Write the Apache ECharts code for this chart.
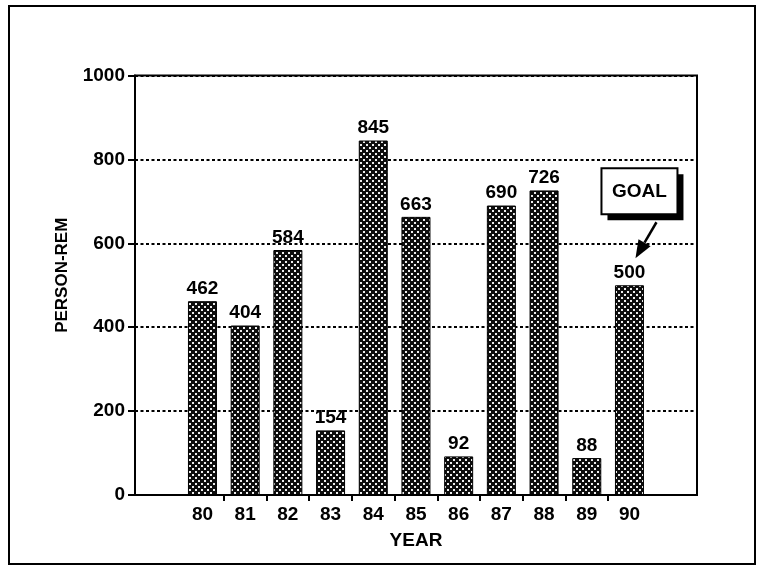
<!DOCTYPE html>
<html>
<head>
<meta charset="utf-8">
<script src="https://cdn.jsdelivr.net/npm/echarts@6/dist/echarts.min.js"></script>
<style>
  html, body { margin: 0; padding: 0; background: #fff; }
  #chart { width: 758px; height: 566px; }
</style>
</head>
<body>
<div id="chart"></div>
<script>
// Collective dose by year
const years = ['80', '81', '82', '83', '84', '85', '86', '87', '88', '89', '90'];
const personRem = [462, 404, 584, 154, 845, 663, 92, 690, 726, 88, 500];
const goalYear = '90';
const goalLabel = 'GOAL';
const yMin = 0;
const yMax = 1000;
const yStep = 200;

const FONT = '"Liberation Sans", Arial, Helvetica, sans-serif';
const INK = '#000';

// Frame of the plot, in pixels
const W = 758, H = 566;
const plotLeft = 135, plotRight = 697, plotTop = 75.5, plotBottom = 495;
// Width of one category slot; bars start 1.58 slots in from the left frame
const slot = 42.7;
const barsLeft = plotLeft + 1.58 * slot - slot / 2;
const barsRight = barsLeft + years.length * slot;

// Halftone fill for the bars
function halftone() {
  const c = document.createElement('canvas');
  c.width = 6; c.height = 6;
  const g = c.getContext('2d');
  g.fillStyle = '#0d0d0d';
  g.fillRect(0, 0, 6, 6);
  g.fillStyle = '#eeeeee';
  g.fillRect(0, 0, 2, 2);
  g.fillRect(3, 3, 2, 2);
  return c;
}

const labelFont = { fontFamily: FONT, fontWeight: 'bold', fontSize: 19, color: INK };

const chart = echarts.init(document.getElementById('chart'), null, { renderer: 'canvas' });

const option = {
  backgroundColor: '#fff',
  animation: false,
  grid: [
    // outer plot frame with the value axis
    { left: plotLeft, right: W - plotRight, top: plotTop, bottom: H - plotBottom,
      show: true, borderColor: INK, borderWidth: 2, backgroundColor: 'transparent' },
    // bar area, one slot per year
    { left: barsLeft, right: W - barsRight, top: plotTop, bottom: H - plotBottom },
    // tick marks between neighbouring years
    { left: barsLeft + slot, right: W - (barsRight - slot), top: plotTop, bottom: H - plotBottom }
  ],
  xAxis: [
    { gridIndex: 0, type: 'value', min: 0, max: 1,
      axisLine: { show: true, lineStyle: { color: INK, width: 2 } },
      axisTick: { show: false }, axisLabel: { show: false }, splitLine: { show: false },
      name: 'YEAR', nameLocation: 'middle', nameGap: 36,
      nameTextStyle: { fontFamily: FONT, fontWeight: 'bold', fontSize: 19, color: INK } },
    { gridIndex: 1, type: 'category', data: years,
      axisLine: { show: false }, axisTick: { show: false },
      axisLabel: Object.assign({ margin: 10, interval: 0 }, labelFont) },
    { gridIndex: 2, type: 'value', min: 0, max: years.length - 2, interval: 1,
      axisLine: { show: false },
      axisTick: { show: true, length: 6, lineStyle: { color: INK, width: 2 } },
      axisLabel: { show: false }, splitLine: { show: false } }
  ],
  yAxis: [
    { gridIndex: 0, type: 'value', min: yMin, max: yMax, interval: yStep,
      axisLine: { show: true, lineStyle: { color: INK, width: 2 } },
      axisTick: { show: true, length: 7, lineStyle: { color: INK, width: 2 } },
      axisLabel: Object.assign({ margin: 10, formatter: v => String(v) }, labelFont),
      splitLine: { show: true, lineStyle: { color: INK, width: 2, type: [3, 2.5] } },
      name: 'PERSON-REM', nameLocation: 'middle', nameGap: 64, nameRotate: 90,
      nameTextStyle: { fontFamily: FONT, fontWeight: 'bold', fontSize: 17, color: INK,
                       padding: [0, 0, 0, 20] } },
    { gridIndex: 1, type: 'value', min: yMin, max: yMax, show: false },
    { gridIndex: 2, type: 'value', min: yMin, max: yMax, show: false }
  ],
  series: [
    {
      type: 'bar',
      xAxisIndex: 1, yAxisIndex: 1,
      data: personRem,
      barWidth: 29,
      itemStyle: {
        color: { image: halftone(), repeat: 'repeat' },
        borderColor: INK, borderWidth: 1
      },
      label: Object.assign({ show: true, position: 'top', distance: 3 }, labelFont)
    }
  ]
};
chart.setOption(option);

// Callout box and arrow pointing at the goal bar
const tip = chart.convertToPixel({ xAxisIndex: 1, yAxisIndex: 1 },
  [goalYear, personRem[years.indexOf(goalYear)]]);
const tipX = tip[0] + 6, tipY = tip[1] - 27;
const tailX = tipX + 21, tailY = tipY - 36;
const ang = Math.atan2(tipY - tailY, tipX - tailX);
const headLen = 18, headHalf = 7;
const bx = tipX - headLen * Math.cos(ang), by = tipY - headLen * Math.sin(ang);
const nx = -Math.sin(ang), ny = Math.cos(ang);
const boxW = 76, boxH = 46, boxX = tailX - 55, boxY = tailY - 54;

chart.setOption({
  graphic: [
    { type: 'rect', shape: { x: 9, y: 6, width: 746, height: 558 },
      style: { fill: 'none', stroke: INK, lineWidth: 2 }, z: 10 },
    { type: 'rect', shape: { x: boxX + 6, y: boxY + 6, width: boxW, height: boxH },
      style: { fill: INK }, z: 10 },
    { type: 'rect', shape: { x: boxX, y: boxY, width: boxW, height: boxH },
      style: { fill: '#fff', stroke: INK, lineWidth: 2 }, z: 11 },
    { type: 'text', x: boxX + boxW / 2, y: boxY + boxH / 2 + 1,
      style: { text: goalLabel, fontFamily: FONT, fontWeight: 'bold', fontSize: 19,
               fill: INK, align: 'center', verticalAlign: 'middle' }, z: 12 },
    { type: 'line', shape: { x1: tailX, y1: tailY, x2: bx, y2: by },
      style: { stroke: INK, lineWidth: 2.5 }, z: 12 },
    { type: 'polygon',
      shape: { points: [[tipX, tipY], [bx + nx * headHalf, by + ny * headHalf], [bx - nx * headHalf, by - ny * headHalf]] },
      style: { fill: INK }, z: 12 }
  ]
});
</script>
</body>
</html>
